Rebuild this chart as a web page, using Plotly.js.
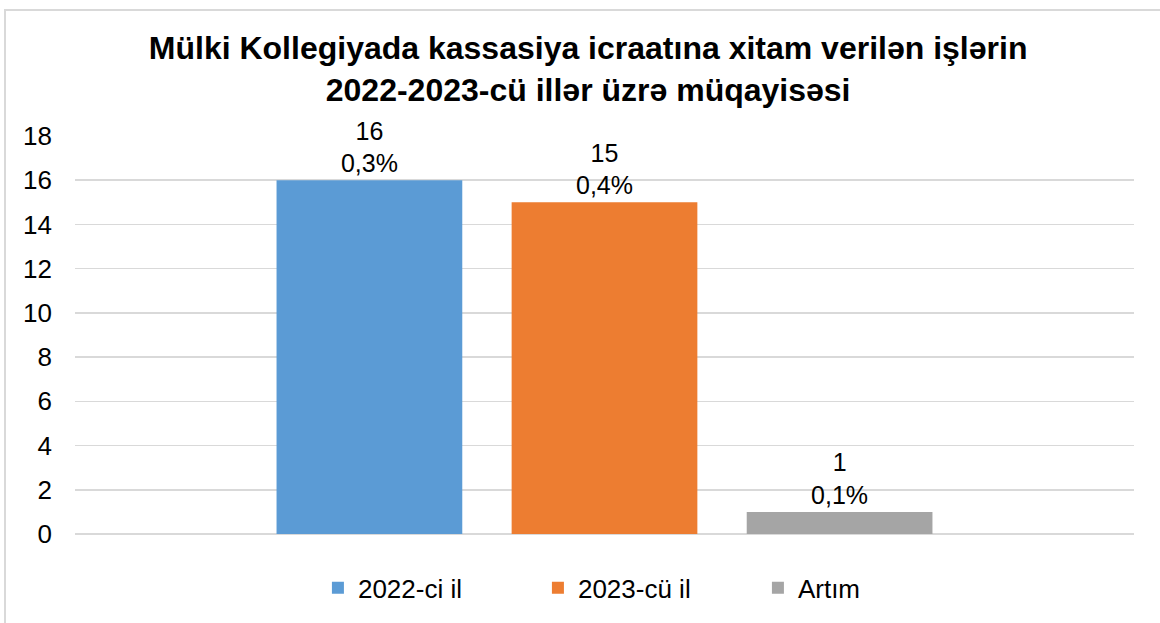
<!DOCTYPE html>
<html>
<head>
<meta charset="utf-8">
<script src="https://cdn.plot.ly/plotly-3.0.1.min.js"></script>
<style>
html,body{margin:0;padding:0;background:#fff;overflow:hidden;}
#chart{width:1160px;height:623px;position:relative;}
#frame{position:absolute;left:4px;top:9px;width:1200px;height:700px;border:2px solid #d9d9d9;pointer-events:none;}
</style>
</head>
<body>
<div id="chart"></div>
<div id="frame"></div>
<script>
const category = ['Mülki Kollegiya'];
const seriesNames = ['2022-ci il', '2023-cü il', 'Artım'];
const seriesValues = [16, 15, 1];
const seriesShares = ['0,3%', '0,4%', '0,1%'];
const seriesColors = ['#5B9BD5', '#ED7D31', '#A5A5A5'];
const yTicks = [0, 2, 4, 6, 8, 10, 12, 14, 16, 18];

const FONT = 'Liberation Sans, Arial, sans-serif';

const traces = seriesNames.map((name, i) => ({
  type: 'bar',
  name: name,
  x: category,
  y: [seriesValues[i]],
  text: [seriesValues[i] + '<br>' + seriesShares[i]],
  textposition: 'outside',
  cliponaxis: false,
  textfont: {family: FONT, size: 25, color: '#000'},
  marker: {color: seriesColors[i]},
  hoverinfo: 'none'
}));

const layout = {
  width: 1160,
  height: 623,
  margin: {l: 75, r: 26, t: 136, b: 86},
  paper_bgcolor: '#fff',
  plot_bgcolor: '#fff',
  font: {family: FONT, size: 25, color: '#000'},
  title: {
    text: '<b>Mülki Kollegiyada kassasiya icraatına xitam verilən işlərin<br>2022-2023-cü illər üzrə müqayisəsi</b>',
    font: {family: FONT, size: 32, color: '#000'},
    x: 0.507, xref: 'container', xanchor: 'center',
    y: 0.905, yref: 'container', yanchor: 'middle'
  },
  barmode: 'group',
  bargap: 0.334,
  bargroupgap: 0.21,
  xaxis: {showticklabels: false, showgrid: false, zeroline: false, showline: false, ticks: ''},
  yaxis: {
    range: [0, 18], tickvals: yTicks, ticktext: yTicks.map(String),
    showgrid: true, gridcolor: '#d9d9d9', gridwidth: 1.5,
    zeroline: true, zerolinecolor: '#d9d9d9', zerolinewidth: 1.5,
    showline: false, ticks: '', ticklabelstandoff: 22,
    tickfont: {family: FONT, size: 26}
  },
  showlegend: true,
  legend: {
    orientation: 'h', x: 0.541, xanchor: 'center', y: -0.135, yanchor: 'middle',
    font: {family: FONT, size: 26}, entrywidth: 175, itemclick: false
  }
};

Plotly.newPlot('chart', traces, layout, {displayModeBar: false, staticPlot: true});
</script>
</body>
</html>
